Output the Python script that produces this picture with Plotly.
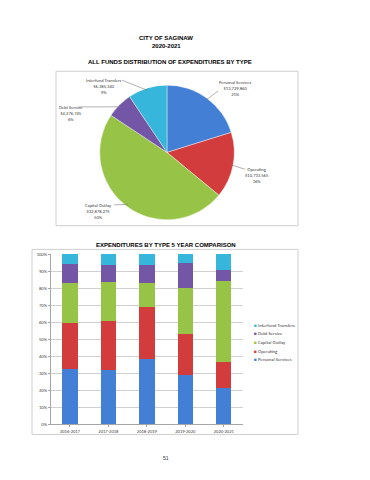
import math
import plotly.graph_objects as go

# ---------------- data ----------------
CATEGORIES = ["Personal Services", "Operating", "Capital Outlay", "Debt Service", "Interfund Transfers"]
PIE_VALUES = [13729860, 10733565, 32878275, 4276745, 6385340]
PIE_PCT_LABELS = ["21%", "16%", "50%", "6%", "9%"]

YEARS = ["2016-2017", "2017-2018", "2018-2019", "2019-2020", "2020-2021"]
PERSONAL = [0.327, 0.317, 0.381, 0.292, 0.212]
OPERATING = [0.265, 0.289, 0.308, 0.239, 0.151]
CAPITAL = [0.237, 0.231, 0.142, 0.271, 0.480]
DEBT = [0.115, 0.097, 0.105, 0.148, 0.062]
INTERFUND = [0.056, 0.066, 0.064, 0.050, 0.095]

COLORS = ["#427fd5", "#d23c3c", "#97c446", "#7357a6", "#36b6da"]

W, H = 370, 480
def px(x):
    return x / W
def py(y):
    return 1 - y / H

fig = go.Figure()

# ---------------- pie ----------------
PIE_L, PIE_R, PIE_T, PIE_B = 99, 235, 84, 220
fig.add_trace(go.Pie(
    labels=CATEGORIES, values=PIE_VALUES, sort=False, direction="clockwise", rotation=0,
    marker=dict(colors=COLORS, line=dict(color="white", width=0.4)),
    textinfo="none", hoverinfo="label+value+percent", showlegend=False,
    domain=dict(x=[px(PIE_L), px(PIE_R)], y=[py(PIE_B), py(PIE_T)]),
))

# label text centers and leader attach points (layout)
LABEL_CENTER = [(235, 87), (257, 175), (98, 211.5), (70.5, 112.5), (104, 85)]
LABEL_ATTACH = [(218, 90), (245, 169), (114, 205), (79, 106), (122, 79)]

cx, cy = (PIE_L + PIE_R) / 2, (PIE_T + PIE_B) / 2
rad = (PIE_R - PIE_L) / 2
total = sum(PIE_VALUES)
cum = 0
shapes = []
annotations = []
for i, v in enumerate(PIE_VALUES):
    mid = (cum + v / 2) / total * 2 * math.pi
    cum += v
    hx = cx + rad * 0.96 * math.sin(mid)
    hy = cy - rad * 0.96 * math.cos(mid)
    ax_, ay_ = LABEL_ATTACH[i]
    shapes.append(dict(type="line", xref="paper", yref="paper",
                       x0=px(hx), y0=py(hy), x1=px(ax_), y1=py(ay_),
                       line=dict(color="#7f7f7f", width=0.6)))
    tx, ty = LABEL_CENTER[i]
    annotations.append(dict(
        xref="paper", yref="paper", x=px(tx), y=py(ty), showarrow=False,
        text=f"{CATEGORIES[i]}<br>${PIE_VALUES[i]:,}<br>{PIE_PCT_LABELS[i]}",
        font=dict(family="Carlito, Lato, sans-serif", size=4.6, color="#404040"),
        align="center", xanchor="center", yanchor="middle"))

# ---------------- stacked bars ----------------
BAR_SERIES = [PERSONAL, OPERATING, CAPITAL, DEBT, INTERFUND]
for name, vals, col in zip(CATEGORIES, BAR_SERIES, COLORS):
    fig.add_trace(go.Bar(x=YEARS, y=vals, name=name, marker=dict(color=col, line=dict(width=0)),
                         showlegend=False, xaxis="x", yaxis="y"))

# manual legend (tiny square markers)
LEG_X, LEG_Y0, LEG_DY = 252, 326, 8.8
for k, i in enumerate(reversed(range(len(CATEGORIES)))):
    annotations.append(dict(
        xref="paper", yref="paper", x=px(LEG_X), y=py(LEG_Y0 + k * LEG_DY), showarrow=False,
        text=f"<span style='color:{COLORS[i]}'>■</span> {CATEGORIES[i]}",
        font=dict(family="Carlito, Lato, sans-serif", size=4.8, color="#404040"),
        xanchor="left", yanchor="middle"))

# titles
TITLE_FONT = dict(family="Liberation Sans, Arial, sans-serif", size=6, color="black")
for text, x, y in [("<b>CITY OF SAGINAW</b>", 166, 36), ("<b>2020-2021</b>", 166, 44.5),
                   ("<b>ALL FUNDS DISTRIBUTION OF EXPENDITURES BY TYPE</b>", 170, 61),
                   ("<b>EXPENDITURES BY TYPE 5 YEAR COMPARISON</b>", 166, 245.5)]:
    annotations.append(dict(xref="paper", yref="paper", x=px(x), y=py(y), showarrow=False,
                            text=text, font=TITLE_FONT, xanchor="center", yanchor="middle"))
annotations.append(dict(xref="paper", yref="paper", x=px(166), y=py(461), showarrow=False,
                        text="51", font=dict(family="Liberation Sans, Arial", size=5, color="#333"),
                        xanchor="center", yanchor="middle"))

# boxes
shapes.append(dict(type="rect", xref="paper", yref="paper", x0=px(56), x1=px(298), y0=py(226), y1=py(70),
                   line=dict(color="#cfcfcf", width=1), layer="below"))
shapes.append(dict(type="rect", xref="paper", yref="paper", x0=px(32), x1=px(298), y0=py(437), y1=py(250),
                   line=dict(color="#cfcfcf", width=1), layer="below"))

fig.update_layout(
    width=W, height=H, margin=dict(l=0, r=0, t=0, b=0),
    paper_bgcolor="white", plot_bgcolor="white",
    barmode="stack", bargap=0.6,
    xaxis=dict(domain=[px(50.7), px(243)], anchor="y", showline=True, linecolor="#a6a6a6", linewidth=0.6,
               ticks="outside", ticklen=2, tickcolor="#a6a6a6",
               tickfont=dict(family="Carlito, Lato, sans-serif", size=4.6, color="#404040"), fixedrange=True),
    yaxis=dict(domain=[py(426.7), py(254.7)], anchor="x", range=[0, 1], dtick=0.1, tickformat=".0%",
               showgrid=True, gridcolor="#d0d0d0", gridwidth=0.7, showline=True, linecolor="#a6a6a6",
               linewidth=0.6, ticks="outside", ticklen=2, tickcolor="#a6a6a6", zeroline=False,
               tickfont=dict(family="Carlito, Lato, sans-serif", size=4.6, color="#404040"), fixedrange=True),
    shapes=shapes, annotations=annotations,
)

fig.write_html("out.html", config={"displayModeBar": False},
               post_script="document.body.style.margin='0';document.body.style.overflow='hidden';")
